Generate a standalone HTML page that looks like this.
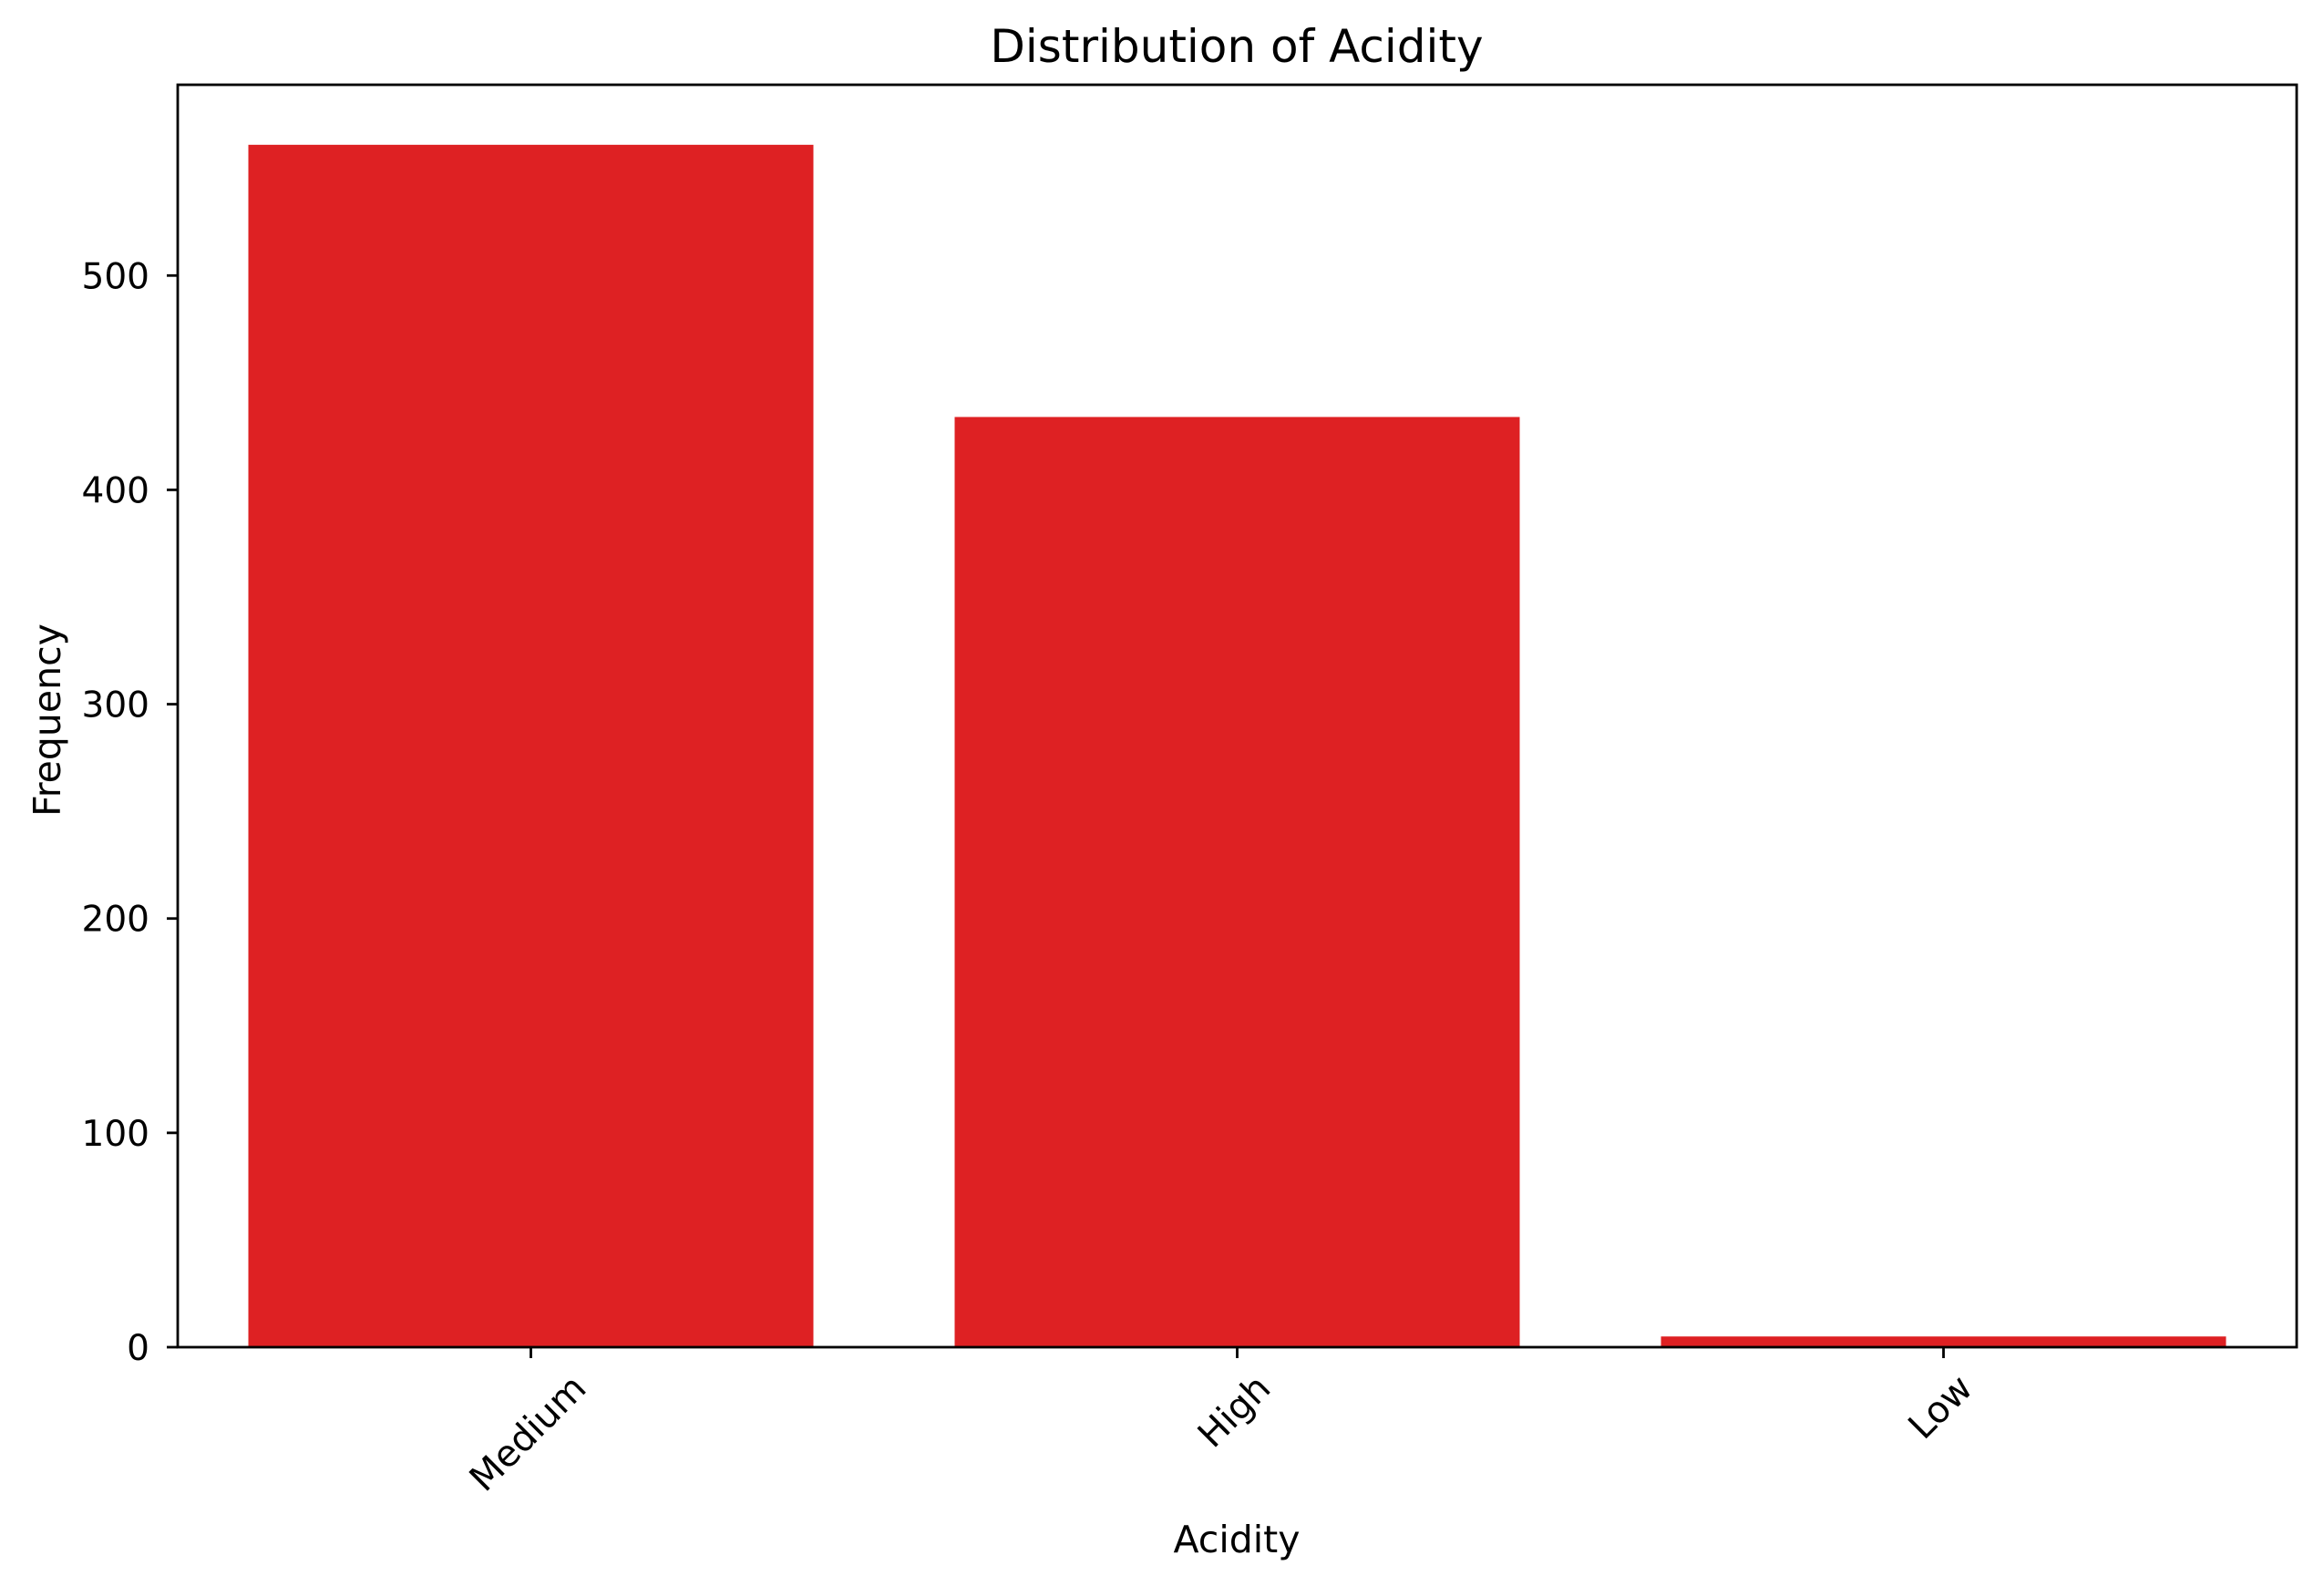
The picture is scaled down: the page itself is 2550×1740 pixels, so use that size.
<!DOCTYPE html>
<html><head><meta charset="utf-8"><style>
html,body{margin:0;padding:0;background:#fff;}
svg{display:block;font-family:"DejaVu Sans","Liberation Sans",sans-serif;}
</style></head><body>
<svg id="chart" width="2550" height="1740" viewBox="0 0 2550 1740">
<rect x="0" y="0" width="2550" height="1740" fill="#fff"/>
<g id="bars"></g>
<g id="yticks"></g>
<g id="xticks"></g>
<rect x="195" y="93" width="2325" height="1385" fill="none" stroke="#000" stroke-width="2.8"/>
<text x="1357" y="68" font-size="50" text-anchor="middle">Distribution of Acidity</text>
<text x="1357" y="1703" font-size="41" text-anchor="middle">Acidity</text>
<text transform="translate(66,790) rotate(-90)" font-size="41" text-anchor="middle">Frequency</text>
</svg>
<script>
const categories = ["Medium", "High", "Low"];
const counts = [561, 434, 5];
const yTickValues = [0, 100, 200, 300, 400, 500];

const NS = "http://www.w3.org/2000/svg";
const plotL = 195, plotR = 2520, plotT = 93, plotB = 1478;
const xMin = -0.5, xMax = categories.length - 0.5;
const yMin = 0, yMax = 589;
function xScale(i){ return plotL + (i - xMin) / (xMax - xMin) * (plotR - plotL); }
function yScale(v){ return plotB - (v - yMin) / (yMax - yMin) * (plotB - plotT); }

const bars = document.getElementById('bars');
counts.forEach((v, i) => {
  const r = document.createElementNS(NS, 'rect');
  const x0 = xScale(i - 0.4), x1 = xScale(i + 0.4);
  r.setAttribute('x', x0);
  r.setAttribute('width', x1 - x0);
  r.setAttribute('y', yScale(v));
  r.setAttribute('height', yScale(0) - yScale(v));
  r.setAttribute('fill', '#de2123');
  
  
  bars.appendChild(r);
});

const yt = document.getElementById('yticks');
yTickValues.forEach(v => {
  const y = yScale(v);
  const l = document.createElementNS(NS, 'line');
  l.setAttribute('x1', plotL - 12); l.setAttribute('x2', plotL);
  l.setAttribute('y1', y); l.setAttribute('y2', y);
  l.setAttribute('stroke', '#000'); l.setAttribute('stroke-width', '2.8');
  
  
  yt.appendChild(l);
  const t = document.createElementNS(NS, 'text');
  t.setAttribute('x', plotL - 31); t.setAttribute('y', y + 14);
  t.setAttribute('font-size', '39'); t.setAttribute('text-anchor', 'end');
  t.textContent = String(v);
  
  
  yt.appendChild(t);
});

const xt = document.getElementById('xticks');
categories.forEach((c, i) => {
  const x = xScale(i);
  const l = document.createElementNS(NS, 'line');
  l.setAttribute('x1', x); l.setAttribute('x2', x);
  l.setAttribute('y1', plotB); l.setAttribute('y2', plotB + 12);
  l.setAttribute('stroke', '#000'); l.setAttribute('stroke-width', '2.8');
  
  
  xt.appendChild(l);
  const t = document.createElementNS(NS, 'text');
  t.setAttribute('font-size', '40'); t.setAttribute('text-anchor', 'middle');
  t.setAttribute('dominant-baseline', 'central');
  t.textContent = c;
  
  
  xt.appendChild(t);
  const w = t.getComputedTextLength();
  const ext = (w + 40) * Math.SQRT1_2;
  const cy = plotB + 24 + ext / 2;
  t.setAttribute('transform', 'translate(' + (x - 3) + ',' + cy + ') rotate(-45)');
});
</script>
</body></html>
